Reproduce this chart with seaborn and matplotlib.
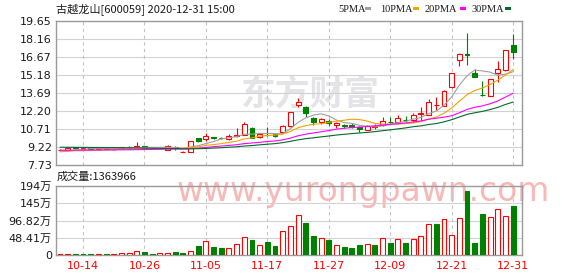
import matplotlib
matplotlib.use("Agg")
import matplotlib.pyplot as plt
import numpy as np
import pandas as pd
import seaborn as sns
from matplotlib.patches import Rectangle

# ---------------- data ----------------
title = "古越龙山[600059] 2020-12-31 15:00"
dates = ["10-09", "10-12", "10-13", "10-14", "10-15", "10-16",
         "10-19", "10-20", "10-21", "10-22", "10-23",
         "10-26", "10-27", "10-28", "10-29", "10-30",
         "11-02", "11-03", "11-04", "11-05", "11-06",
         "11-09", "11-10", "11-11", "11-12", "11-13",
         "11-16", "11-17", "11-18", "11-19", "11-20",
         "11-23", "11-24", "11-25", "11-26", "11-27",
         "11-30", "12-01", "12-02", "12-03", "12-04",
         "12-07", "12-08", "12-09", "12-10", "12-11",
         "12-14", "12-15", "12-16", "12-17", "12-18",
         "12-21", "12-22", "12-23", "12-24", "12-25",
         "12-28", "12-29", "12-30", "12-31"]
open_ = [8.97, 8.98, 9.18, 9.08, 9.10, 9.07, 9.10, 9.03, 9.15, 9.21,
         9.22, 9.30, 9.16, 9.12, 8.98, 9.26, 8.82, 8.84, 9.94, 9.88,
         10.04, 9.95, 9.90, 10.12, 10.21, 10.82, 10.05, 10.24, 10.27, 10.44,
         10.98, 12.70, 12.53, 11.60, 11.32, 11.37, 11.04, 11.00, 11.04, 10.90,
         10.63, 10.91, 11.02, 11.33, 11.26, 11.49, 11.43, 11.99, 11.89, 12.66,
         12.64, 14.16, 16.42, 16.92, 15.32, 13.52, 13.44, 15.32, 15.57, 17.69]
high = [9.05, 9.18, 9.21, 9.17, 9.14, 9.12, 9.12, 9.08, 9.24, 9.28,
        9.64, 9.32, 9.18, 9.20, 9.36, 9.30, 8.86, 9.74, 10.00, 10.35,
        10.06, 10.06, 10.28, 10.77, 11.26, 10.85, 10.40, 10.90, 10.28, 11.05,
        12.14, 13.30, 12.64, 11.70, 11.60, 11.52, 11.32, 11.16, 11.18, 10.98,
        11.07, 11.12, 11.71, 11.74, 11.86, 11.80, 12.00, 12.51, 13.17, 13.33,
        13.94, 15.34, 16.99, 18.68, 15.65, 14.71, 14.84, 16.31, 17.24, 18.57]
low = [8.94, 8.96, 9.08, 9.06, 9.05, 9.04, 9.03, 8.98, 9.12, 9.14,
       9.18, 9.12, 9.10, 9.08, 8.95, 9.00, 8.78, 8.82, 9.62, 9.74,
       9.86, 9.86, 9.82, 10.08, 10.20, 9.95, 10.00, 10.10, 10.05, 10.40,
       10.90, 12.56, 11.68, 11.05, 11.10, 10.96, 10.82, 10.78, 10.82, 10.48,
       10.63, 10.72, 10.96, 11.18, 11.20, 11.26, 11.26, 11.46, 11.86, 12.28,
       12.60, 14.14, 15.95, 16.01, 15.02, 13.48, 13.42, 14.63, 15.55, 16.48]
close = [9.00, 9.16, 9.12, 9.11, 9.08, 9.10, 9.06, 9.07, 9.19, 9.20,
         9.30, 9.15, 9.13, 9.16, 9.28, 9.11, 8.84, 9.72, 9.68, 10.16,
         9.95, 9.93, 10.16, 10.21, 11.10, 9.99, 10.27, 10.20, 10.10, 10.98,
         12.12, 12.92, 12.03, 11.26, 11.54, 11.21, 11.23, 10.98, 10.88, 10.74,
         10.93, 10.92, 11.40, 11.32, 11.60, 11.48, 11.87, 12.01, 12.92, 12.68,
         13.88, 15.32, 16.92, 16.81, 15.04, 13.50, 14.82, 15.65, 17.22, 17.06]
volume_wan = [2, 2, 3, 3, 3, 3, 3, 3, 5, 5,
              12, 8, 3, 7, 7, 8, 5, 12, 25, 38,
              23, 19, 19, 30, 50, 42, 27, 36, 25, 66,
              82, 112, 90, 53, 47, 42, 29, 23, 19, 28,
              32, 28, 49, 33, 46, 33, 44, 52, 86, 87,
              101, 55, 104, 181, 33, 116, 106, 129, 109, 136.3966]
ma5 = [8.82, 8.86, 8.95, 9.02, 9.09, 9.11, 9.09, 9.08, 9.10, 9.12,
       9.16, 9.18, 9.19, 9.19, 9.20, 9.17, 9.10, 9.22, 9.33, 9.50,
       9.67, 9.89, 9.98, 10.08, 10.27, 10.28, 10.35, 10.35, 10.33, 10.31,
       10.73, 11.26, 11.63, 11.86, 11.97, 11.79, 11.45, 11.24, 11.17, 11.01,
       10.95, 10.89, 10.97, 11.06, 11.23, 11.34, 11.53, 11.66, 11.98, 12.19,
       12.67, 13.36, 14.34, 15.12, 15.59, 15.52, 15.42, 15.16, 15.25, 15.45]
ma10 = [8.90, 8.90, 8.91, 8.92, 8.93, 8.95, 8.97, 8.99, 9.01, 9.03,
        9.05, 9.07, 9.08, 9.09, 9.10, 9.10, 9.10, 9.17, 9.23, 9.35,
        9.42, 9.50, 9.60, 9.70, 9.89, 9.97, 10.12, 10.17, 10.21, 10.29,
        10.51, 10.81, 10.99, 11.10, 11.14, 11.26, 11.36, 11.44, 11.52, 11.49,
        11.37, 11.17, 11.11, 11.12, 11.12, 11.15, 11.21, 11.32, 11.52, 11.71,
        12.01, 12.45, 13.00, 13.55, 13.89, 14.10, 14.39, 14.75, 15.18, 15.62]
ma20 = [8.95, 8.95, 8.96, 8.96, 8.97, 8.97, 8.98, 8.98, 8.99, 8.99,
        9.00, 9.01, 9.02, 9.03, 9.04, 9.05, 9.05, 9.08, 9.12, 9.18,
        9.25, 9.30, 9.35, 9.41, 9.50, 9.55, 9.61, 9.67, 9.72, 9.81,
        9.96, 10.15, 10.28, 10.38, 10.48, 10.58, 10.70, 10.77, 10.83, 10.87,
        10.92, 10.97, 11.04, 11.10, 11.14, 11.21, 11.29, 11.38, 11.52, 11.60,
        11.69, 11.81, 12.05, 12.33, 12.51, 12.62, 12.80, 13.03, 13.35, 13.67]
ma30 = [9.20, 9.20, 9.19, 9.19, 9.18, 9.18, 9.17, 9.17, 9.16, 9.15,
        9.14, 9.13, 9.12, 9.11, 9.10, 9.09, 9.07, 9.07, 9.08, 9.10,
        9.13, 9.16, 9.20, 9.24, 9.30, 9.34, 9.40, 9.45, 9.50, 9.58,
        9.69, 9.81, 9.91, 9.98, 10.06, 10.13, 10.21, 10.27, 10.33, 10.38,
        10.43, 10.49, 10.57, 10.64, 10.72, 10.80, 10.90, 10.97, 11.08, 11.16,
        11.30, 11.48, 11.70, 11.92, 12.05, 12.17, 12.32, 12.50, 12.74, 12.94]
ma_names = ["5PMA", "10PMA", "20PMA", "30PMA"]
price_ticks = [7.73, 9.22, 10.71, 12.20, 13.69, 15.18, 16.67, 18.16, 19.65]
vol_ticks = [0, 48.41, 96.82, 145.23, 193.64]
vol_tick_labels = ["0", "48.41万", "96.82万", "145万", "194万"]
date_labels = ["10-14", "10-26", "11-05", "11-17", "11-27", "12-09", "12-21", "12-31"]
volume_label = "成交量:1363966"

# ---------------- style ----------------
sns.set_theme(style="white")
plt.rcParams['font.family'] = ['DejaVu Sans', 'Noto Sans CJK SC']
RED = "#ff0000"
GREEN = "#008000"
MA_COLORS = {"5PMA": "#a0a0a0", "10PMA": "#f5a300", "20PMA": "#ff00ff", "30PMA": "#006a2e"}
SPINE = "#9a9a9a"
GRID = "#d2d2d2"
TXT = "#1a1a1a"
LW = 0.8

W, H = 578, 276
fig = plt.figure(figsize=(W / 100, H / 100), dpi=100)
fig.patch.set_facecolor("white")


def fx(px):
    return px / W


def fy(py):
    return 1 - py / H


ax_p = fig.add_axes([fx(56), fy(165), (522 - 56) / W, (165 - 21) / H])
ax_v = fig.add_axes([fx(56), fy(255), (522 - 56) / W, (255 - 186) / H])

n = len(dates)
x = np.arange(n)
o = np.array(open_)
c = np.array(close)
hi = np.array(high)
lo = np.array(low)
vol = np.array(volume_wan, dtype=float)

xmin, xmax = -0.52, 60.16
tick_pos = [dates.index(d) for d in date_labels]

# watermarks
ax_p.text(fx(310), fy(94), "东方财富", transform=fig.transFigure, ha="center", va="center",
          fontsize=25, fontweight="bold", color="#e4e4e8", family=["Noto Sans CJK SC"],
          zorder=0.6, clip_on=False)
ax_v.text(fx(177), fy(201.5), "www.yurongpawn.com", transform=fig.transFigure, ha="left",
          va="baseline", fontsize=23.8, color="#f8b8b8", zorder=0.6, clip_on=False)

# ---------------- price panel ----------------
for ax in (ax_p, ax_v):
    ax.set_facecolor("white")
    for s in ax.spines.values():
        s.set_color(SPINE)
        s.set_linewidth(1)
    ax.set_xlim(xmin, xmax)
    for tp in tick_pos:
        ax.axvline(tp, color="#c4c4c4", lw=LW, ls=(0, (3, 3)), zorder=0.8)

for t in price_ticks[1:-1]:
    ax_p.axhline(t, color=GRID, lw=LW, zorder=0.7)

up_candle = c >= o
body_w = 0.64
for i in range(n):
    col = RED if up_candle[i] else GREEN
    ax_p.vlines(x[i], lo[i], hi[i], color=col, lw=LW, zorder=2)
    bottom = min(o[i], c[i])
    height = max(abs(c[i] - o[i]), 0.005)
    ax_p.bar(x[i], height, bottom=bottom, width=body_w,
             facecolor="white" if up_candle[i] else GREEN,
             edgecolor=col, linewidth=LW, zorder=3)

ma_df = pd.DataFrame({
    "idx": np.tile(x, 4),
    "value": ma5 + ma10 + ma20 + ma30,
    "line": np.repeat(ma_names, n),
})
sns.lineplot(data=ma_df, x="idx", y="value", hue="line", palette=MA_COLORS,
             hue_order=ma_names, ax=ax_p, legend=False, linewidth=LW, zorder=4)

ax_p.set_ylim(price_ticks[0], price_ticks[-1])
ax_p.set_yticks(price_ticks)
ax_p.set_yticklabels([f"{t:.2f}" for t in price_ticks])
ax_p.set_xticks([])
ax_p.set_xlabel("")
ax_p.set_ylabel("")
ax_p.tick_params(axis="y", length=0, pad=3, labelsize=8, colors=TXT)

# ---------------- volume panel ----------------
for t in vol_ticks[1:-1]:
    ax_v.axhline(t, color=GRID, lw=LW, zorder=0.7)

prev = np.concatenate([[o[0]], c[:-1]])
vol_up = c >= prev
for i in range(n):
    if vol_up[i]:
        ax_v.bar(x[i], vol[i], width=body_w, facecolor="white", edgecolor=RED,
                 linewidth=LW, zorder=3)
    else:
        ax_v.bar(x[i], vol[i], width=body_w, facecolor=GREEN, edgecolor=GREEN,
                 linewidth=LW, zorder=3)

ax_v.set_ylim(0, vol_ticks[-1])
ax_v.set_yticks(vol_ticks)
ax_v.set_yticklabels(vol_tick_labels)
ax_v.tick_params(axis="y", length=0, pad=3, labelsize=8, colors=TXT)
ax_v.set_xticks(tick_pos)
ax_v.set_xticklabels(date_labels)
ax_v.tick_params(axis="x", length=0, pad=4, labelsize=8, colors=RED)

# ---------------- texts ----------------
fig.text(fx(56), fy(9), title, ha="left", va="center", fontsize=8, color=TXT,
         family=["Noto Sans CJK SC", "DejaVu Sans"])
fig.text(fx(57), fy(177), volume_label, ha="left", va="center", fontsize=8, color=TXT,
         family=["Noto Sans CJK SC", "DejaVu Sans"])

legend_text_x = [338, 380, 425, 472]
legend_box_x = [365, 413, 460, 505]
for name, tx, bx in zip(ma_names, legend_text_x, legend_box_x):
    fig.text(fx(tx), fy(9), name, ha="left", va="center", fontsize=7.5, color=TXT,
             family=["Liberation Serif"])
    fig.patches.append(Rectangle((fx(bx), fy(10)), 6 / W, 3 / H, transform=fig.transFigure,
                                 facecolor=MA_COLORS[name], edgecolor="none"))

fig.savefig("out.png", dpi=100, facecolor="white")
